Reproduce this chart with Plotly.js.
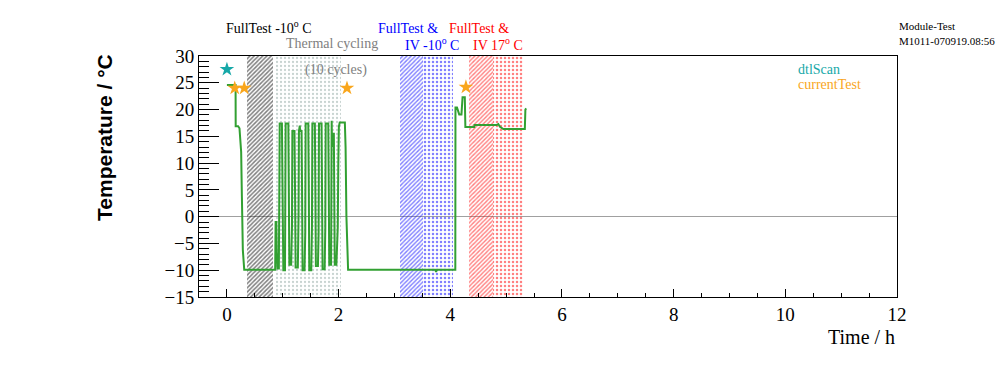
<!DOCTYPE html>
<html>
<head>
<meta charset="utf-8">
<script src="https://cdn.plot.ly/plotly-3.0.1.min.js"></script>
<style>html,body{margin:0;padding:0;background:#fff;}#chart{width:996px;height:372px;}</style>
</head>
<body>
<div id="chart"></div>
<script>
// ---- data ----
const time = [0.00,0.155,0.157,0.20,0.225,0.255,0.268,0.285,0.31,0.855,
  0.864,0.872,0.885,0.893,0.905,0.93,
  0.935,0.94,0.945,0.985,0.99,1.00,1.01,1.04,
  1.045,1.052,1.10,1.108,1.118,1.15,
  1.165,1.172,1.21,1.22,1.23,1.27,
  1.283,1.29,1.305,1.31,1.337,1.345,1.355,1.39,
  1.403,1.41,1.457,1.465,1.475,1.51,
  1.523,1.53,1.575,1.583,1.593,1.63,
  1.642,1.649,1.695,1.703,1.713,1.75,
  1.762,1.769,1.815,1.823,1.833,1.865,
  1.87,1.876,1.882,1.89,1.915,1.922,1.932,1.96,
  1.985,1.995,2.005,2.02,2.112,2.125,2.14,2.17,
  3.73,3.745,3.76,4.09,
  4.093,4.12,4.14,4.16,4.20,4.21,4.22,4.26,4.27,4.43,4.435,4.83,4.86,4.89,4.95,5.335,5.345,5.36];
const temp = [24.6,24.6,16.9,16.9,16.5,12.1,3.8,-6.2,-9.9,-9.9,
  -9.9,-1.0,-1.0,-6.5,-9.7,-9.7,
  -4,10.4,17.4,17.4,10,-2,-10.0,-10.0,
  -3,17.4,17.4,8,-9,-9,
  -2,16.0,16.0,5,-9.5,-9.5,
  0,16.0,17.0,16.0,16.0,6,-10,-10,
  -3,17.4,17.4,7,-10,-10,
  -2,17.4,17.4,6,-9.2,-9.2,
  -3,17.4,17.4,5,-9.8,-9.8,
  -2,17.4,17.4,6,-9.0,-9.0,
  -1,17.9,13,15.5,15.5,5,-9.0,-9.0,
  -2,10,16.8,17.6,17.6,13,0,-9.9,
  -9.9,-10.3,-9.9,-9.9,
  20.4,20.4,19.8,19.1,19.1,21.3,22.3,22.3,16.75,16.75,17.1,17.1,17.3,16.8,16.35,16.35,20.0,20.2];

const dtlScanTime = [0.0];
const dtlScanTemp = [27.5];
const currentTestTime = [0.14, 0.31, 2.15, 4.28];
const currentTestTemp = [24.0, 24.0, 24.0, 24.2];

const regionStart = [0.358, 0.873, 3.095, 3.513, 4.332, 4.767];
const regionEnd   = [0.824, 2.05, 3.513, 4.04, 4.767, 5.30];
const regionColor = ['#000000', '#8fa8a2', '#0000ff', '#0000ff', '#ff0000', '#ff0000'];
const regionShape = ['/', '.', '/', '.', '/', '.'];
const regionSize  = [3, 4, 3, 4, 3, 4];
const regionSolid = [0.5, 0.25, 0.45, 0.3, 0.45, 0.3];

const yMin = -15, yMax = 30;
const xMin = -0.5, xMax = 12;

// ---- traces ----
const regions = {
  type: 'bar',
  x: regionStart.map((s, i) => (s + regionEnd[i]) / 2),
  width: regionStart.map((s, i) => regionEnd[i] - s),
  base: regionStart.map(() => yMin),
  y: regionStart.map(() => yMax - yMin),
  marker: {
    color: 'rgba(0,0,0,0)',
    line: {width: 0},
    pattern: {
      shape: regionShape,
      fgcolor: regionColor,
      bgcolor: 'rgba(0,0,0,0)',
      fillmode: 'overlay',
      size: regionSize,
      solidity: regionSolid
    }
  },
  hoverinfo: 'skip',
  showlegend: false
};

const line = {
  type: 'scatter', mode: 'lines', x: time, y: temp,
  line: {color: '#32a032', width: 2},
  showlegend: false
};
const dtl = {
  type: 'scatter', mode: 'markers', name: 'dtlScan', x: dtlScanTime, y: dtlScanTemp,
  marker: {symbol: 'star', size: 11, color: '#16a8a8'}, showlegend: false
};
const cur = {
  type: 'scatter', mode: 'markers', name: 'currentTest', x: currentTestTime, y: currentTestTemp,
  marker: {symbol: 'star', size: 11, color: '#f9a61c'}, showlegend: false
};

const serif = 'Liberation Serif, Times New Roman, serif';
const ann = (text, x, y, color, size, xanchor, extra) => Object.assign({
  text, x, y, xref: 'paper', yref: 'paper', showarrow: false,
  xanchor: xanchor || 'center', yanchor: 'middle',
  font: {family: serif, size: size, color: color}
}, extra || {});

const layout = {
  width: 996, height: 372,
  margin: {l: 199, r: 99, t: 56, b: 75, pad: 0},
  paper_bgcolor: '#ffffff', plot_bgcolor: '#ffffff',
  barmode: 'overlay',
  bargap: 0,
  xaxis: {
    range: [xMin, xMax], tick0: 0, dtick: 2,
    ticks: 'inside', ticklen: 8, tickcolor: '#000',
    showline: true, linecolor: '#000', linewidth: 1, mirror: true,
    showgrid: false, zeroline: false,
    tickfont: {family: serif, size: 19, color: '#000'},
    minor: {ticks: 'inside', ticklen: 4, dtick: 0.5, tickcolor: '#000', showgrid: false}
  },
  yaxis: {
    range: [yMin, yMax], tick0: 0, dtick: 5,
    ticks: 'inside', ticklen: 20, tickcolor: '#000',
    showline: true, linecolor: '#000', linewidth: 1, mirror: true,
    showgrid: false, zeroline: true, zerolinecolor: '#a0a0a0', zerolinewidth: 1,
    tickfont: {family: serif, size: 19, color: '#000'},
    minor: {ticks: 'inside', ticklen: 10, dtick: 1, tickcolor: '#000', showgrid: false}
  },
  annotations: [
    ann('FullTest -10<sup>o</sup> C', 0.1003, 1.120, '#000', 14),
    ann('Thermal cycling', 0.1905, 1.050, '#808080', 14),
    ann('FullTest &amp;', 0.2994, 1.116, '#0000ff', 14),
    ann('IV -10<sup>o</sup> C', 0.3338, 1.050, '#0000ff', 14),
    ann('FullTest &amp;', 0.4011, 1.116, '#ff0000', 14),
    ann('IV 17<sup>o</sup> C', 0.4284, 1.050, '#ff0000', 14),
    ann('(10 cycles)', 0.1963, 0.942, '#808080', 14),
    ann('Module-Test', 1.0, 1.124, '#000', 11, 'left'),
    ann('M1011-070919.08:56', 1.0, 1.062, '#000', 11, 'left'),
    ann('dtlScan', 0.8553, 0.942, '#16a8a8', 14, 'left'),
    ann('currentTest', 0.8553, 0.880, '#f9a61c', 14, 'left'),
    ann('Time / h', 1.0, -0.166, '#000', 20, 'right'),
    ann('Temperature / °C', -0.1347, 0.664, '#000', 21, 'center',
        {textangle: -90, font: {family: 'Liberation Sans, Arial, sans-serif', size: 21, color: '#000', weight: 'bold'}})
  ]
};

Plotly.newPlot('chart', [regions, line, dtl, cur], layout, {displayModeBar: false, staticPlot: true});
</script>
</body>
</html>
